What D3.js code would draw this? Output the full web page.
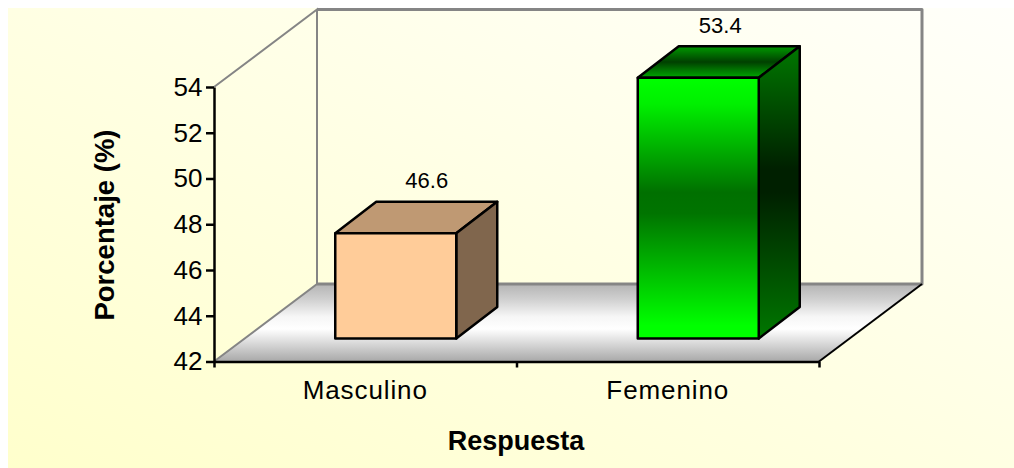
<!DOCTYPE html>
<html>
<head>
<meta charset="utf-8">
<script src="https://cdn.jsdelivr.net/npm/d3@7"></script>
<style>
html,body{margin:0;padding:0;background:#fff;}
svg{display:block;}
text{font-family:"Liberation Sans",Arial,sans-serif;fill:#000;}
</style>
</head>
<body>
<svg id="c" width="1014" height="468"></svg>
<script>
const categories = ["Masculino", "Femenino"];
const values = [46.6, 53.4];
const yTicks = [42, 44, 46, 48, 50, 52, 54];
const yTitle = "Porcentaje (%)";
const xTitle = "Respuesta";

const svg = d3.select("#c");
const defs = svg.append("defs");
function grad(id, stops, x2, y2) {
  const g = defs.append("linearGradient").attr("id", id)
    .attr("x1", 0).attr("y1", y2 === 0 ? 1 : 0).attr("x2", x2).attr("y2", y2 === 0 ? 0 : y2);
  stops.forEach(s => g.append("stop").attr("offset", s[0]).attr("stop-color", s[1]));
}
grad("bg", [[0, "#ffffcc"], [1, "#fffffa"]], 1, 0);
grad("floor", [[0, "#b4b4b4"], [0.2, "#d0d0d0"], [0.42, "#f6f6f6"], [0.58, "#ffffff"], [0.75, "#dcdcdc"], [1, "#a8a8a8"]], 0, 1);
grad("greenFront", [[0, "#00ff00"], [0.1, "#00f000"], [0.44, "#007000"], [0.52, "#007400"], [0.95, "#00ff00"], [1, "#00ff00"]], 0, 1);
grad("greenSide", [[0, "#007800"], [0.42, "#002000"], [0.5, "#002000"], [1, "#007800"]], 0, 1);
grad("greenTop", [[0, "#009a00"], [0.5, "#004000"], [1, "#00a800"]], 0, 1);

const x0 = 214, x1 = 819, yBase = 361.5, yTop = 87;
const wallDx = 103, wallDy = -77.5;
const barOffX = 30.5, barOffY = -23, depthX = 41, depthY = -31.5;
const labelShift = [31, 22];

const x = d3.scaleBand().domain(categories).range([x0, x1]).paddingInner(0).paddingOuter(0);
const y = d3.scaleLinear().domain([42, 54]).range([yBase, yTop]);
const edge = d3.scaleLinear().domain([0, categories.length]).range([x0, x1]);
const barW = x.bandwidth() * 0.4;

svg.append("rect").attr("x", 8).attr("y", 8).attr("width", 1006).attr("height", 460).attr("fill", "url(#bg)");

// floor
svg.append("path")
  .attr("d", d3.line()([[x0, yBase], [x0 + wallDx, yBase + wallDy], [x1 + wallDx, yBase + wallDy], [x1, yBase]]) + "Z")
  .attr("fill", "url(#floor)");

// walls
const gray = "#858585";
svg.append("path")
  .attr("d", d3.line()([[x0, yBase], [x0 + wallDx, yBase + wallDy], [x0 + wallDx, yTop + wallDy], [x0, yTop]]))
  .attr("fill", "none").attr("stroke", gray).attr("stroke-width", 2);
svg.append("path")
  .attr("d", d3.line()([[x0 + wallDx, yBase + wallDy], [x1 + wallDx, yBase + wallDy], [x1 + wallDx, yTop + wallDy], [x0 + wallDx, yTop + wallDy]]))
  .attr("fill", "none").attr("stroke", gray).attr("stroke-width", 3).attr("stroke-linejoin", "round");
svg.append("line").attr("x1", x1).attr("y1", yBase).attr("x2", x1 + wallDx).attr("y2", yBase + wallDy)
  .attr("stroke", "#000").attr("stroke-width", 2);

// bars
const fills = [
  {front: "#ffcc99", side: "#80664d", top: "#bf9973"},
  {front: "url(#greenFront)", side: "url(#greenSide)", top: "url(#greenTop)"}
];
const bars = svg.append("g").selectAll("g").data(values).join("g")
  .attr("stroke", "#000").attr("stroke-width", 2.5).attr("stroke-linejoin", "round");
bars.each(function(v, i) {
  const g = d3.select(this);
  const c = categories[i];
  const l = x(c) + (x.bandwidth() - barW) / 2 + barOffX;
  const r = l + barW;
  const t = y(v) + barOffY;
  const b = y(42) + barOffY;
  const line = d3.line();
  g.append("path").attr("d", line([[l, t], [l + depthX, t + depthY], [r + depthX, t + depthY], [r, t]]) + "Z").attr("fill", fills[i].top);
  g.append("path").attr("d", line([[r, t], [r + depthX, t + depthY], [r + depthX, b + depthY], [r, b]]) + "Z").attr("fill", fills[i].side);
  g.append("path").attr("d", line([[l, t], [r, t], [r, b], [l, b]]) + "Z").attr("fill", fills[i].front);
  svg.append("text").attr("x", (l + r) / 2 + labelShift[i]).attr("y", t + depthY - 13.5)
    .attr("text-anchor", "middle").attr("font-size", 22).text(v.toFixed(1));
});

// axes
const yAxis = svg.append("g").attr("transform", `translate(${x0},0)`)
  .call(d3.axisLeft(y).tickValues(yTicks).tickSize(8).tickSizeOuter(0).tickPadding(3.5).tickFormat(d3.format("d")));
yAxis.selectAll("text").attr("font-size", 26).style("font-family", '"Liberation Sans",Arial,sans-serif').attr("fill", "#000");
yAxis.selectAll("line,path").attr("stroke", "#000").attr("stroke-width", 2.5);

const xEdge = svg.append("g").attr("transform", `translate(0,${yBase})`)
  .call(d3.axisBottom(edge).tickValues(d3.range(categories.length + 1)).tickSize(6).tickSizeOuter(0).tickFormat(""));
xEdge.selectAll("line,path").attr("stroke", "#000").attr("stroke-width", 2.5);

const xLab = svg.append("g").attr("transform", `translate(0,${yBase})`)
  .call(d3.axisBottom(x).tickSize(0).tickPadding(19));
xLab.select("path").remove();
xLab.selectAll("text").attr("font-size", 26).attr("letter-spacing", 0.9)
  .style("font-family", '"Liberation Sans",Arial,sans-serif').attr("fill", "#000");

svg.append("text").attr("x", 516).attr("y", 450).attr("text-anchor", "middle")
  .attr("font-size", 27).attr("font-weight", "bold").text(xTitle);
svg.append("text").attr("transform", "translate(114,225) rotate(-90)").attr("text-anchor", "middle")
  .attr("font-size", 27.5).attr("font-weight", "bold").text(yTitle);
</script>
</body>
</html>
